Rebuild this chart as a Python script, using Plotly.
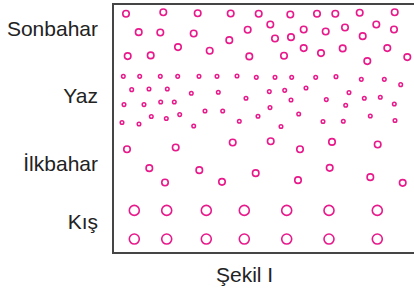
import plotly.graph_objects as go

# Seasons (tick labels) and their label heights (px-like units from bottom of frame)
seasons = ["Sonbahar", "Yaz", "İlkbahar", "Kış"]
season_y = [224.5, 157.5, 90, 31]

# Particle positions (x from left frame edge, y from bottom frame edge)
sonbahar_x = [13, 50.3, 84.7, 117.7, 145.7, 177.3, 204, 222.3, 246.7, 281.7,
              25.7, 47.3, 80.7, 134.7, 157.3, 190.7, 212.7, 232, 263.3, 281,
              116.3, 162, 178, 249.7,
              14.7, 37.7, 65, 96.7, 136.3, 171, 190.7, 208, 229.7, 254.3, 274.3, 294.3]
sonbahar_y = [239.7, 241.3, 240.3, 240, 239.7, 239, 239.7, 239.7, 240.7, 241.3,
              221.3, 221, 220, 223.7, 229, 224, 222, 226, 229, 224,
              213.3, 215, 216.3, 217.3,
              197.3, 198, 206.3, 202.7, 197, 197.7, 205.3, 200.3, 205, 192.3, 205.3, 196.3]

yaz_x = [10.3, 26.7, 47.3, 64.7, 86, 104, 124, 143.3, 162, 178.7, 202.7, 223, 248.3, 271.3, 287.7,
         18.7, 36, 54.3, 78.3, 105.3, 156.3, 171.7, 193, 236, 133, 178, 213.3, 251.3, 267.3,
         11, 31, 47.7, 61.3, 232.7, 281.3, 157,
         38.3, 53.3, 66.7, 92, 109.7, 145, 185.7, 257.3, 9, 26, 80.7, 126.3, 168, 210, 230.3, 282]
yaz_y = [177, 177, 177, 177, 177, 177, 177.3, 176, 176, 176, 176, 176.7, 174, 174, 168.7,
         163.7, 164.3, 164.3, 160, 161, 161.7, 163, 165.3, 160.7, 155, 153.3, 153.7, 155, 156,
         148.7, 148.7, 151.3, 151.3, 148, 149.3, 145.7,
         136.7, 134.7, 138.7, 142.3, 142.3, 137, 139.3, 137.3, 130.7, 129.3, 127.3, 132, 126.7, 131.7, 132, 132.7]

ilkbahar_x = [14, 62.7, 119.7, 157.7, 187, 219, 264.7,
              36.3, 86.3, 142.7, 216.7, 257.3,
              52, 109, 185, 289.7]
ilkbahar_y = [104, 105.7, 110.7, 112, 104, 111.3, 108.7,
              85, 83, 80, 85.3, 76,
              70.7, 71.3, 73, 70.3]

kis_x = [21.3, 53.7, 93.3, 131.3, 173.7, 216, 264.3,
         21.3, 53.7, 93.3, 131.3, 173.7, 216, 264.3]
kis_y = [42.7, 42.7, 42.7, 42.7, 42.7, 42.7, 42.7,
         14, 14, 14, 14, 14, 14, 14]

caption = "Şekil I"

color = "#e8198b"
frame_color = "#454545"

fig = go.Figure()

def add(xs, ys, size, lw):
    fig.add_trace(go.Scatter(
        x=xs, y=ys, mode="markers", hoverinfo="skip",
        marker=dict(symbol="circle-open", size=size, color=color,
                    line=dict(width=lw, color=color)),
        showlegend=False, cliponaxis=False))

add(sonbahar_x, sonbahar_y, 6.5, 1.6)
add(yaz_x, yaz_y, 3.6, 1.5)
add(ilkbahar_x, ilkbahar_y, 6.5, 1.6)
add(kis_x, kis_y, 10, 1.6)

font_family = "Liberation Sans, Arial, Helvetica, sans-serif"

frame = [
    dict(type="line", xref="paper", yref="paper", x0=0, x1=0, y0=-0.004, y1=1.004,
         line=dict(color=frame_color, width=2)),
    dict(type="line", xref="paper", yref="paper", x0=0, x1=1.05, y0=1, y1=1,
         line=dict(color=frame_color, width=2)),
    dict(type="line", xref="paper", yref="paper", x0=0, x1=1.05, y0=0, y1=0,
         line=dict(color=frame_color, width=2)),
]

fig.update_layout(
    width=414, height=296,
    margin=dict(l=113, r=0, t=3.5, b=42.5),
    paper_bgcolor="white", plot_bgcolor="white",
    font=dict(family=font_family, size=21, color="#222"),
    xaxis=dict(range=[0, 301], showgrid=False, zeroline=False, showticklabels=False,
               ticks="", showline=False, fixedrange=True),
    yaxis=dict(range=[0, 249.5], showgrid=False, zeroline=False,
               tickmode="array", tickvals=season_y, ticktext=seasons,
               ticks="", ticklabelstandoff=14,
               tickfont=dict(family=font_family, size=21, color="#222"),
               showline=False, fixedrange=True),
    shapes=frame,
    annotations=[dict(text=caption, x=131, xref="x", y=-21.5 / 249.5, yref="paper",
                      showarrow=False, xanchor="center", yanchor="middle",
                      font=dict(family=font_family, size=21, color="#222"))],
)

fig.write_html("out.html", config={"displayModeBar": False},
               post_script="document.body.style.margin='0';document.body.style.overflow='hidden';")
